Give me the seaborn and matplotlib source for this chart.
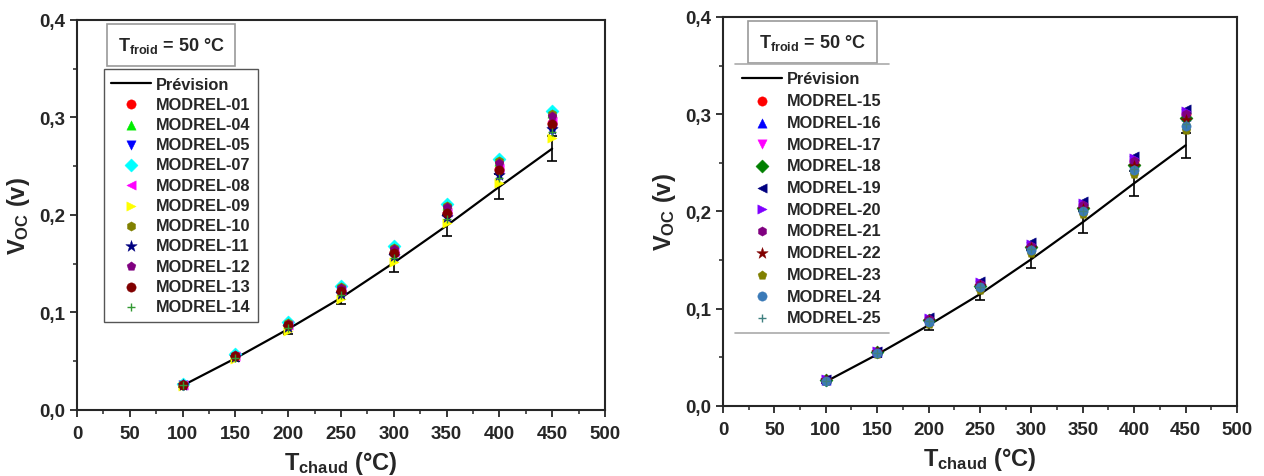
import numpy as np
import pandas as pd
import matplotlib
matplotlib.use('Agg')
import matplotlib.pyplot as plt
import seaborn as sns
from matplotlib.ticker import MultipleLocator, FuncFormatter
from matplotlib.lines import Line2D

# hot-side temperatures (°C)
t_chaud = [100, 150, 200, 250, 300, 350, 400, 450]

# model prediction and its error bar
prevision = [0.025, 0.053, 0.083, 0.115, 0.151, 0.189, 0.229, 0.268]
prevision_err = [0.001, 0.003, 0.005, 0.006, 0.009, 0.011, 0.013, 0.013]

# left panel: measured Voc per module
left_names = ['MODREL-01', 'MODREL-04', 'MODREL-05', 'MODREL-07', 'MODREL-08', 'MODREL-09',
              'MODREL-10', 'MODREL-11', 'MODREL-12', 'MODREL-13', 'MODREL-14']
modrel_01 = [0.026, 0.055, 0.087, 0.122, 0.162, 0.202, 0.247, 0.294]
modrel_04 = [0.027, 0.057, 0.089, 0.126, 0.167, 0.210, 0.255, 0.305]
modrel_05 = [0.026, 0.054, 0.085, 0.119, 0.157, 0.197, 0.240, 0.286]
modrel_07 = [0.027, 0.057, 0.090, 0.127, 0.168, 0.211, 0.257, 0.307]
modrel_08 = [0.026, 0.055, 0.087, 0.123, 0.162, 0.203, 0.248, 0.296]
modrel_09 = [0.025, 0.052, 0.081, 0.114, 0.152, 0.192, 0.233, 0.279]
modrel_10 = [0.027, 0.056, 0.089, 0.126, 0.166, 0.209, 0.255, 0.304]
modrel_11 = [0.026, 0.054, 0.085, 0.119, 0.158, 0.198, 0.241, 0.288]
modrel_12 = [0.027, 0.056, 0.088, 0.125, 0.165, 0.208, 0.253, 0.302]
modrel_13 = [0.026, 0.055, 0.087, 0.122, 0.161, 0.202, 0.246, 0.293]
modrel_14 = [0.026, 0.053, 0.084, 0.118, 0.156, 0.196, 0.238, 0.285]
left_values = [modrel_01, modrel_04, modrel_05, modrel_07, modrel_08, modrel_09,
               modrel_10, modrel_11, modrel_12, modrel_13, modrel_14]

# right panel
right_names = ['MODREL-15', 'MODREL-16', 'MODREL-17', 'MODREL-18', 'MODREL-19', 'MODREL-20',
               'MODREL-21', 'MODREL-22', 'MODREL-23', 'MODREL-24', 'MODREL-25']
modrel_15 = [0.027, 0.056, 0.089, 0.125, 0.165, 0.207, 0.252, 0.300]
modrel_16 = [0.027, 0.055, 0.088, 0.124, 0.164, 0.205, 0.250, 0.298]
modrel_17 = [0.027, 0.055, 0.088, 0.124, 0.163, 0.204, 0.249, 0.297]
modrel_18 = [0.027, 0.055, 0.088, 0.123, 0.163, 0.204, 0.248, 0.296]
modrel_19 = [0.028, 0.057, 0.091, 0.128, 0.169, 0.211, 0.257, 0.305]
modrel_20 = [0.028, 0.057, 0.090, 0.127, 0.167, 0.209, 0.255, 0.303]
modrel_21 = [0.027, 0.056, 0.089, 0.125, 0.165, 0.207, 0.252, 0.300]
modrel_22 = [0.027, 0.055, 0.087, 0.123, 0.162, 0.203, 0.247, 0.294]
modrel_23 = [0.026, 0.053, 0.084, 0.119, 0.157, 0.197, 0.239, 0.284]
modrel_24 = [0.026, 0.054, 0.086, 0.122, 0.160, 0.200, 0.243, 0.288]
modrel_25 = [0.026, 0.054, 0.087, 0.122, 0.161, 0.201, 0.244, 0.290]
right_values = [modrel_15, modrel_16, modrel_17, modrel_18, modrel_19, modrel_20,
                modrel_21, modrel_22, modrel_23, modrel_24, modrel_25]

# marker styles
left_style = [('o', '#ff0000'), ('^', '#00ee00'), ('v', '#0000ff'), ('D', '#00ffff'),
              ('<', '#ff00ff'), ('>', '#ffff00'), ('h', '#808000'), ('*', '#000080'),
              ('p', '#800080'), ('o', '#800000'), ('+', '#339933')]
right_style = [('o', '#ff0000'), ('^', '#0000ff'), ('v', '#ff00ff'), ('D', '#008000'),
               ('<', '#000080'), ('>', '#8000ff'), ('h', '#800080'), ('*', '#800000'),
               ('p', '#808000'), ('o', '#3a7ab8'), ('+', '#408080')]

sns.set_style('ticks')
plt.rcParams['font.family'] = ['Liberation Sans', 'DejaVu Sans']
plt.rcParams['font.weight'] = 'bold'
plt.rcParams['mathtext.fontset'] = 'custom'
plt.rcParams['mathtext.rm'] = 'Liberation Sans:bold'
plt.rcParams['mathtext.bf'] = 'Liberation Sans:bold'
plt.rcParams['mathtext.it'] = 'Liberation Sans:bold'

fig = plt.figure(figsize=(12.64, 4.77), dpi=100)
ax1 = fig.add_axes([0.0609, 0.1384, 0.4177, 0.8176])
ax2 = fig.add_axes([0.572, 0.1468, 0.4066, 0.8155])

comma = FuncFormatter(lambda v, p: f'{v:.1f}'.replace('.', ','))


def draw_panel(ax, names, values, styles, leg_anchor, box_xy, leg_spacing, right_panel):
    ax.errorbar(t_chaud, prevision, yerr=prevision_err, fmt='none', ecolor='black',
                elinewidth=1.2, capsize=3.5, capthick=1.2, zorder=2)
    sns.lineplot(x=t_chaud, y=prevision, color='black', linewidth=1.6, ax=ax,
                 label='Prévision', zorder=2)
    for name, vals, (mk, col) in zip(names, values, styles):
        if mk == '+':
            sns.scatterplot(x=t_chaud, y=vals, marker=mk, color=col, s=40, linewidth=1.0,
                            ax=ax, label=name, zorder=3)
        else:
            size = 75 if mk == '*' else 45
            sns.scatterplot(x=t_chaud, y=vals, marker=mk, color=col, s=size, linewidth=0.3,
                            edgecolor=col, ax=ax, label=name, zorder=3)

    ax.set_xlim(0, 500)
    ax.set_ylim(0, 0.4)
    ax.xaxis.set_major_locator(MultipleLocator(50))
    ax.xaxis.set_minor_locator(MultipleLocator(25))
    ax.yaxis.set_major_locator(MultipleLocator(0.1))
    ax.yaxis.set_minor_locator(MultipleLocator(0.05))
    ax.yaxis.set_major_formatter(comma)
    ax.tick_params(axis='both', which='major', direction='out', length=5, width=1.3,
                   labelsize=13.5, top=False, right=False)
    ax.tick_params(axis='x', which='major', pad=6)
    ax.tick_params(axis='both', which='minor', direction='out', length=3, width=1.1,
                   top=False, right=False)
    for lab in ax.get_xticklabels() + ax.get_yticklabels():
        lab.set_fontweight('bold')
    for sp in ax.spines.values():
        sp.set_linewidth(1.5)
        sp.set_visible(True)

    ax.set_xlabel(r'$\mathbf{T}_{\mathbf{chaud}}$ (°C)', fontsize=17, fontweight='bold',
                  labelpad=5)
    ax.set_ylabel(r'$\mathbf{V}_{\mathbf{OC}}$ (v)', fontsize=17, fontweight='bold',
                  labelpad=5)

    ax.text(box_xy[0], box_xy[1], r'$\mathbf{T}_{\mathbf{froid}}$ = 50 °C',
            transform=ax.transAxes, ha='center', va='center', fontsize=13,
            fontweight='bold',
            bbox=dict(boxstyle='square,pad=0.6', facecolor='white', edgecolor='#9a9a9a',
                      linewidth=1.2))

    leg = ax.legend(loc='upper left', bbox_to_anchor=leg_anchor, borderaxespad=0,
                    labelspacing=leg_spacing, handlelength=2.4,
                    handletextpad=0.35, borderpad=0.45, frameon=True, fancybox=False,
                    prop={'weight': 'bold', 'size': 11.8})
    frame = leg.get_frame()
    frame.set_facecolor('white')
    frame.set_alpha(1)
    if right_panel:
        frame.set_edgecolor('none')
    else:
        frame.set_edgecolor('#555555')
        frame.set_linewidth(1.0)
    return leg


draw_panel(ax1, left_names, left_values, left_style, (0.051, 0.874), (0.178, 0.936), 0.32, False)
leg2 = draw_panel(ax2, right_names, right_values, right_style, (0.023, 0.879), (0.174, 0.936), 0.41, True)

# thin top/bottom rules on the right-hand legend
fig.canvas.draw()
bb = leg2.get_window_extent().transformed(ax2.transAxes.inverted())
for yy in (bb.y0, bb.y1):
    ax2.add_line(Line2D([bb.x0, bb.x1], [yy, yy], transform=ax2.transAxes,
                        color='#aaaaaa', linewidth=1.2, zorder=6))

fig.savefig('out.png', dpi=100, facecolor='white')
